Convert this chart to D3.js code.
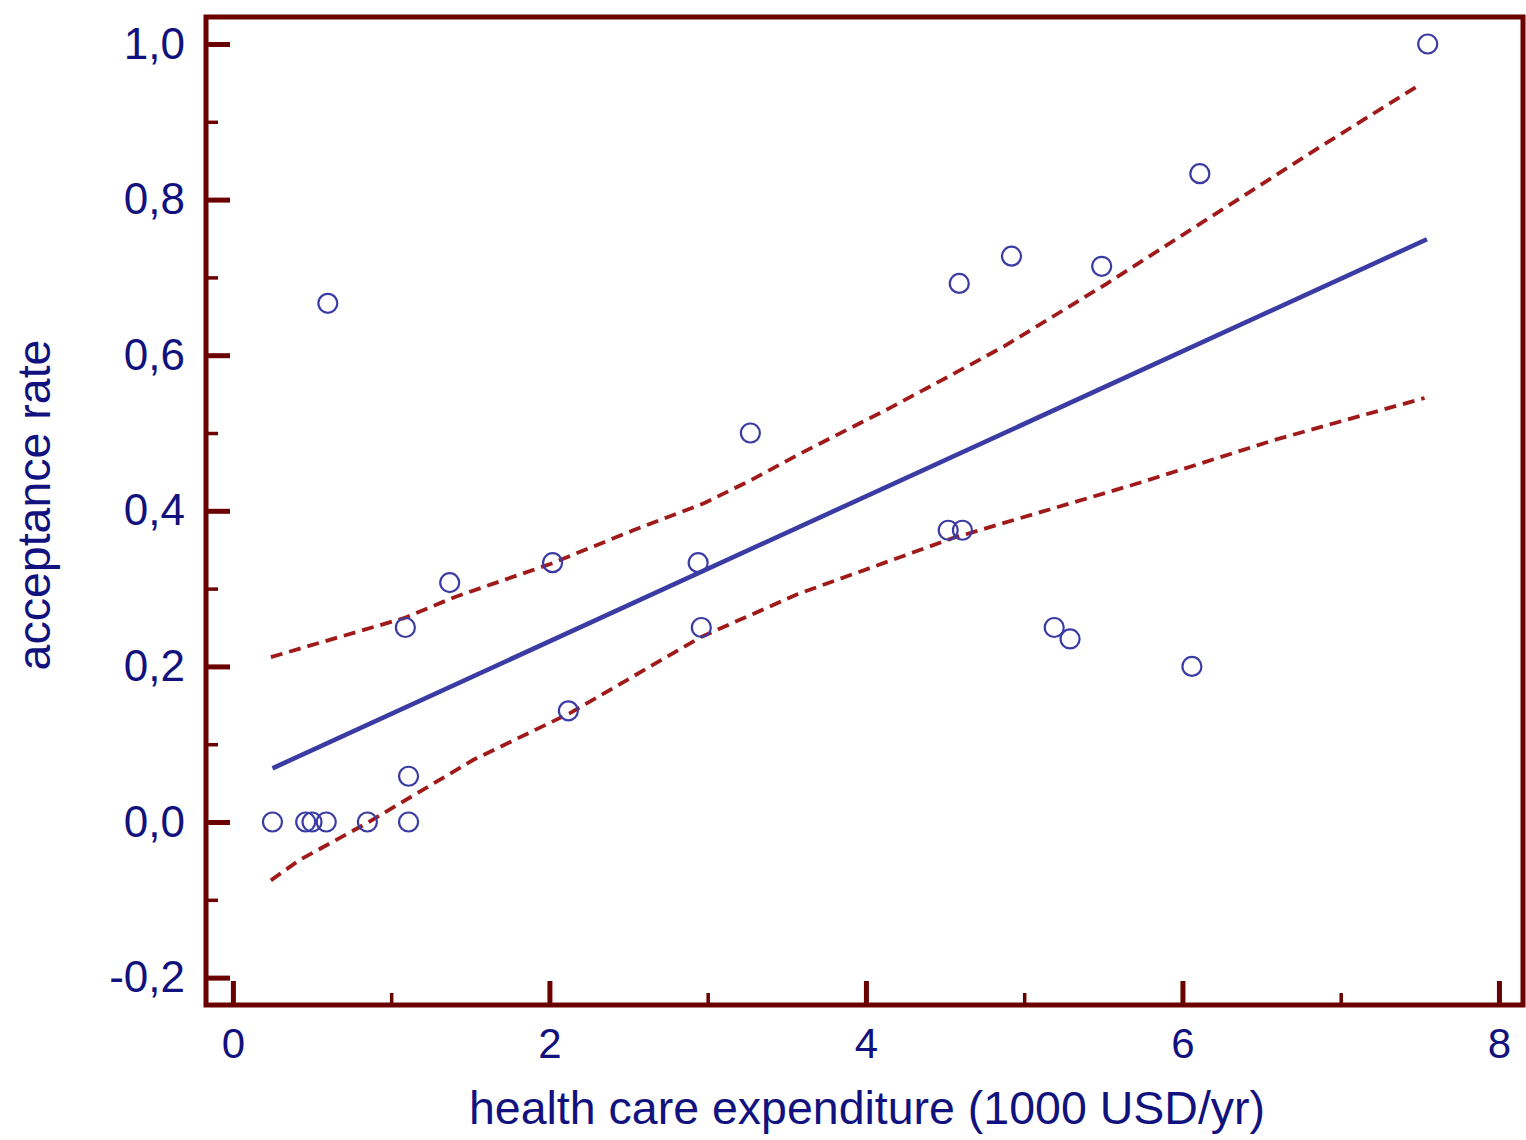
<!DOCTYPE html>
<html>
<head>
<meta charset="utf-8">
<script src="https://cdn.jsdelivr.net/npm/d3@7"></script>
<style>
  html, body { margin: 0; padding: 0; background: #ffffff; }
  svg { display: block; }
  text { font-family: "Liberation Sans", Arial, sans-serif; fill: #12127e; }
</style>
</head>
<body>
<svg id="chart" width="1526" height="1140"></svg>
<script>
// Health care expenditure (1000 USD/yr) per unit vs. acceptance rate
const expenditure = [0.25, 0.46, 0.50, 0.59, 0.85, 1.11, 1.11, 1.09, 1.37, 0.60,
                     2.02, 2.12, 2.94, 2.96, 3.27, 4.52, 4.61, 4.59, 4.92, 5.49,
                     5.19, 5.29, 6.06, 6.11, 7.55];
const acceptance = [0, 0, 0, 0, 0, 0, 1/17, 1/4, 4/13, 2/3,
                    1/3, 1/7, 1/3, 1/4, 1/2, 3/8, 3/8, 9/13, 8/11, 5/7,
                    1/4, 4/17, 1/5, 5/6, 1];

// Least-squares fit line (end points)
const fitX = [0.25, 7.545];
const fitY = [0.069, 0.749];

// 95% confidence band of the fit
const upperX = [0.24, 1.08, 1.40, 2.01, 2.53, 2.98, 3.28, 3.57, 4.15, 4.48, 4.87, 5.53, 6.12, 6.84, 7.51];
const upperY = [0.212, 0.262, 0.289, 0.332, 0.375, 0.410, 0.440, 0.472, 0.532, 0.568, 0.611, 0.693, 0.770, 0.864, 0.949];
const lowerX = [0.24, 0.42, 0.85, 1.52, 2.13, 2.96, 3.57, 4.55, 5.73, 6.58, 7.53];
const lowerY = [-0.075, -0.049, -0.001, 0.080, 0.140, 0.238, 0.293, 0.365, 0.436, 0.491, 0.545];

// Axis ticks
const xMajor = [0, 2, 4, 6, 8];
const xMinor = [1, 3, 5, 7];
const yMajor = [-0.2, 0, 0.2, 0.4, 0.6, 0.8, 1.0];
const yMinor = [-0.1, 0.1, 0.3, 0.5, 0.7, 0.9];

const xTitle = "health care expenditure (1000 USD/yr)";
const yTitle = "acceptance rate";

const frameColor = "#6b0000";
const svg = d3.select("#chart");

const x = d3.scaleLinear().domain([-0.17, 8.152]).range([206, 1523]);
const y = d3.scaleLinear().domain([-0.2352, 1.0347]).range([1005, 17]);

const locale = d3.formatLocale({ decimal: ",", thousands: ".", grouping: [3], currency: ["", ""], minus: "-" });
const fmt1 = locale.format(".1f");

// Confidence band (dashed)
const line = d3.line().x(d => x(d[0])).y(d => y(d[1]));
const bands = [d3.zip(upperX, upperY), d3.zip(lowerX, lowerY)];
svg.append("g").selectAll("path").data(bands).join("path")
  .attr("d", line)
  .attr("fill", "none")
  .attr("stroke", "#a01a1a")
  .attr("stroke-width", 3.8)
  .attr("stroke-dasharray", "12,7");

// Fit line
svg.append("path")
  .datum(d3.zip(fitX, fitY))
  .attr("d", line)
  .attr("fill", "none")
  .attr("stroke", "#3a3ca4")
  .attr("stroke-width", 4.6);

// Observations
svg.append("g").selectAll("circle").data(d3.zip(expenditure, acceptance)).join("circle")
  .attr("cx", d => x(d[0]))
  .attr("cy", d => y(d[1]))
  .attr("r", 9.5)
  .attr("fill", "none")
  .attr("stroke", "#3a3ca4")
  .attr("stroke-width", 2.2);

// Frame
svg.append("rect")
  .attr("x", x.range()[0]).attr("y", y.range()[1])
  .attr("width", x.range()[1] - x.range()[0])
  .attr("height", y.range()[0] - y.range()[1])
  .attr("fill", "none")
  .attr("stroke", frameColor)
  .attr("stroke-width", 5);

function styleAxis(g, width, fontSize) {
  g.select(".domain").remove();
  g.selectAll(".tick line").attr("stroke", frameColor).attr("stroke-width", width);
  g.selectAll(".tick text").attr("font-size", fontSize).style("fill", "#12127e")
    .attr("font-family", "Liberation Sans, Arial, sans-serif");
}

// Y axis (ticks point inward)
svg.append("g").attr("transform", `translate(${x.range()[0]},0)`)
  .call(d3.axisLeft(y).tickValues(yMajor).tickFormat(fmt1).tickSizeInner(-24).tickSizeOuter(0).tickPadding(21))
  .call(g => styleAxis(g, 5, 44))
  .call(g => g.selectAll(".tick text").attr("dy", "0.32em"));
svg.append("g").attr("transform", `translate(${x.range()[0]},0)`)
  .call(d3.axisLeft(y).tickValues(yMinor).tickFormat("").tickSizeInner(-12).tickSizeOuter(0))
  .call(g => styleAxis(g, 3.5, 0));

// X axis (ticks point inward)
svg.append("g").attr("transform", `translate(0,${y.range()[0]})`)
  .call(d3.axisBottom(x).tickValues(xMajor).tickFormat(d3.format("d")).tickSizeInner(-24).tickSizeOuter(0).tickPadding(23))
  .call(g => styleAxis(g, 5, 42));
svg.append("g").attr("transform", `translate(0,${y.range()[0]})`)
  .call(d3.axisBottom(x).tickValues(xMinor).tickFormat("").tickSizeInner(-12).tickSizeOuter(0))
  .call(g => styleAxis(g, 3.5, 0));

// Axis titles
svg.append("text")
  .attr("x", 867).attr("y", 1124)
  .attr("text-anchor", "middle")
  .attr("font-size", 46.5)
  .text(xTitle);

svg.append("text")
  .attr("transform", "translate(50,505) rotate(-90)")
  .attr("text-anchor", "middle")
  .attr("font-size", 46.5)
  .text(yTitle);
</script>
</body>
</html>
